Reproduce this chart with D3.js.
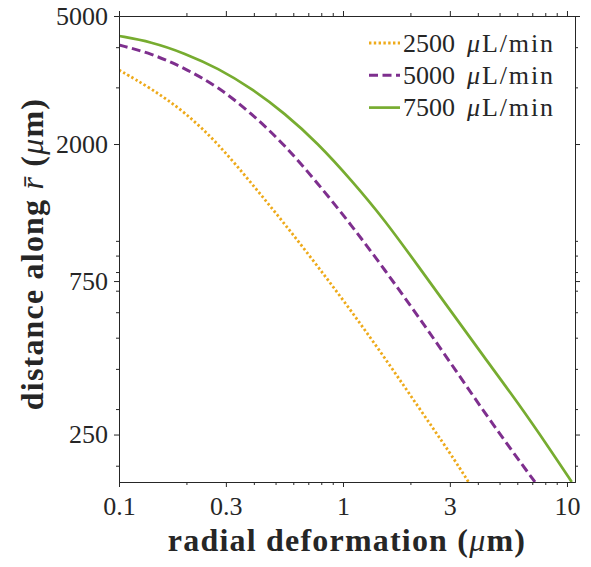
<!DOCTYPE html>
<html>
<head>
<meta charset="utf-8">
<script src="https://cdn.jsdelivr.net/npm/d3@7"></script>
<style>
  body { margin: 0; background: #fff; }
  svg text { font-family: "Liberation Serif", "DejaVu Serif", serif; fill: #262626; }
</style>
</head>
<body>
<svg id="chart" width="591" height="567"></svg>
<script>
// values (x = radial deformation in µm, y = distance in µm)
const xOrange = [0.1, 0.139, 0.197, 0.277, 0.39, 0.55, 0.77, 1.09, 1.54, 2.16, 3.05, 3.634];
const yOrange = [3397, 2980, 2515, 2007, 1512, 1128, 835, 605, 432, 306, 216, 178];

const xPurple = [0.1, 0.139, 0.197, 0.277, 0.39, 0.55, 0.77, 1.09, 1.54, 2.16, 3.05, 4.29, 6.04, 7.195];
const yPurple = [4062, 3828, 3439, 3014, 2491, 1986, 1512, 1120, 811, 584, 414, 292, 210, 178];

const xGreen = [0.1, 0.139, 0.197, 0.277, 0.39, 0.55, 0.77, 1.09, 1.54, 2.16, 3.05, 4.29, 6.04, 8.51, 10.5];
const yGreen = [4334, 4159, 3828, 3439, 2980, 2491, 2014, 1545, 1158, 837, 601, 433, 314, 222, 178];

const seriesNames = ["2500", "5000", "7500"];

const xTicks = [0.1, 0.3, 1, 3, 10];
const yTicks = [250, 750, 2000, 5000];
const xMinor = [0.2, 0.4, 0.5, 0.6, 0.7, 0.8, 0.9, 2, 4, 5, 6, 7, 8, 9];
const yMinor = [200, 300, 400, 500, 600, 700, 800, 900, 1000, 3000, 4000];

const xDomain = [0.1, 10.86];
const yDomain = [178, 5000];

const margin = { left: 119, top: 16, right: 16, bottom: 85 };
const svg = d3.select("#chart");
const width = +svg.attr("width") - margin.left - margin.right;
const height = +svg.attr("height") - margin.top - margin.bottom;

const x = d3.scaleLog().domain(xDomain).range([0, width]);
const y = d3.scaleLog().domain(yDomain).range([height, 0]);

const g = svg.append("g")
  .attr("transform", "translate(" + margin.left + "," + margin.top + ")");

const axisColor = "#262626";

// styles for each series
const styles = [
  { color: "#EEAA1A", dash: "2.4,2.4", width: 2.8 },
  { color: "#7E2F8E", dash: "9,4.5", width: 3 },
  { color: "#77AC30", dash: null, width: 2.7 }
];
const allData = [
  d3.zip(xOrange, yOrange),
  d3.zip(xPurple, yPurple),
  d3.zip(xGreen, yGreen)
];

// clip to the axes box
svg.append("clipPath").attr("id", "clip")
  .append("rect").attr("width", width).attr("height", height);

// basis curve smooths out the reading noise a bit
const line = d3.line()
  .x(d => x(d[0]))
  .y(d => y(d[1]))
  .curve(d3.curveBasis);

const plot = g.append("g").attr("clip-path", "url(#clip)");
allData.forEach(function (data, i) {
  plot.append("path")
    .datum(data)
    .attr("d", line)
    .attr("fill", "none")
    .attr("stroke", styles[i].color)
    .attr("stroke-width", styles[i].width)
    .attr("stroke-dasharray", styles[i].dash)
    .attr("stroke-linecap", "butt");
});

// axes: major + minor, mirrored on top/right
function styleAxis(sel) {
  sel.selectAll("path.domain").attr("stroke", axisColor);
  sel.selectAll(".tick line").attr("stroke", axisColor);
  sel.selectAll(".tick text")
    .attr("fill", axisColor)
    .style("font-size", "26px")
    .style("font-family", "'Liberation Serif', serif");
}

const fmt = d => String(d);

g.append("g").attr("transform", "translate(0," + height + ")")
  .call(d3.axisBottom(x).tickValues(xTicks).tickFormat(fmt).tickSize(5).tickSizeOuter(0).tickPadding(10))
  .call(styleAxis);
g.append("g").attr("transform", "translate(0," + height + ")")
  .call(d3.axisBottom(x).tickValues(xMinor).tickFormat("").tickSize(3).tickSizeOuter(0))
  .call(styleAxis);

g.append("g")
  .call(d3.axisTop(x).tickValues(xTicks).tickFormat("").tickSize(5).tickSizeOuter(0))
  .call(styleAxis);
g.append("g")
  .call(d3.axisTop(x).tickValues(xMinor).tickFormat("").tickSize(3).tickSizeOuter(0))
  .call(styleAxis);

g.append("g")
  .call(d3.axisLeft(y).tickValues(yTicks).tickFormat(fmt).tickSize(5).tickSizeOuter(0).tickPadding(6))
  .call(styleAxis);
g.append("g")
  .call(d3.axisLeft(y).tickValues(yMinor).tickFormat("").tickSize(3).tickSizeOuter(0))
  .call(styleAxis);

g.append("g").attr("transform", "translate(" + width + ",0)")
  .call(d3.axisRight(y).tickValues(yTicks).tickFormat("").tickSize(5).tickSizeOuter(0))
  .call(styleAxis);
g.append("g").attr("transform", "translate(" + width + ",0)")
  .call(d3.axisRight(y).tickValues(yMinor).tickFormat("").tickSize(3).tickSizeOuter(0))
  .call(styleAxis);

// x label
const xl = svg.append("text")
  .attr("x", margin.left + width / 2)
  .attr("y", 551)
  .attr("text-anchor", "middle")
  .style("font-size", "32px")
  .style("letter-spacing", "1.2px")
  .style("font-weight", "bold");
xl.append("tspan").text("radial deformation (");
xl.append("tspan").style("font-style", "italic").style("font-weight", "normal").text("μ");
xl.append("tspan").text("m)");

// y label
const yl = svg.append("text")
  .attr("transform", "translate(43," + (margin.top + height / 2 + 5) + ") rotate(-90)")
  .attr("text-anchor", "middle")
  .style("font-size", "32px")
  .style("letter-spacing", "1.2px")
  .style("font-weight", "bold");
yl.append("tspan").text("distance along ");
yl.append("tspan").style("font-style", "italic").style("font-weight", "normal").text("r\u0304");
yl.append("tspan").text(" (");
yl.append("tspan").style("font-style", "italic").style("font-weight", "normal").text("μ");
yl.append("tspan").text("m)");

// legend
const legend = g.append("g").attr("transform", "translate(250,27)");
seriesNames.forEach(function (name, i) {
  const row = legend.append("g").attr("transform", "translate(0," + (i * 32.3) + ")");
  row.append("line")
    .attr("x1", 0).attr("x2", 31)
    .attr("stroke", styles[i].color)
    .attr("stroke-width", styles[i].width)
    .attr("stroke-dasharray", styles[i].dash);
  const t = row.append("text")
    .attr("x", 34)
    .attr("dy", "0.33em")
    .style("font-size", "26px");
  t.append("tspan").text(name);
  t.append("tspan").attr("dx", 12).style("font-style", "italic").style("letter-spacing", "1.9px").text("μ");
  t.append("tspan").style("letter-spacing", "1.9px").text("L/min");
});
</script>
</body>
</html>
